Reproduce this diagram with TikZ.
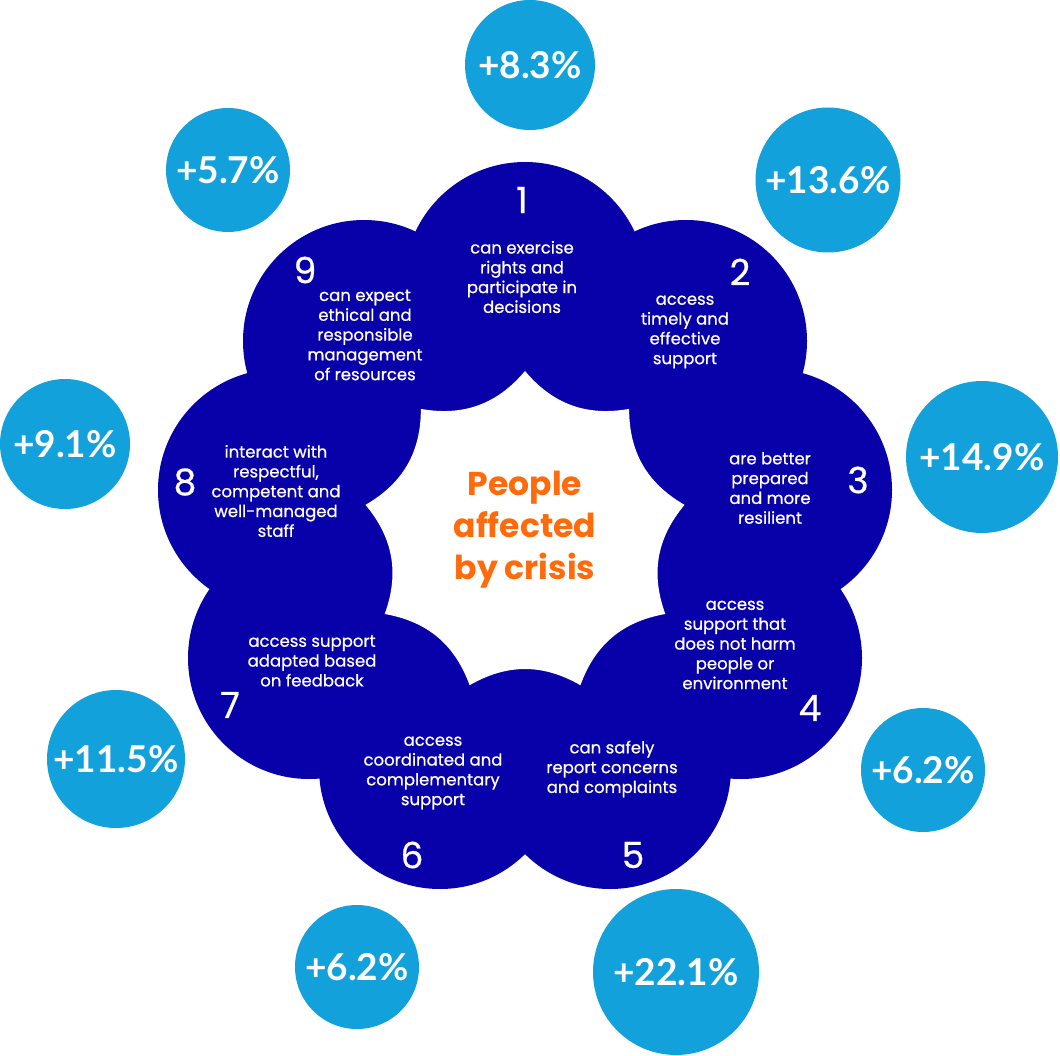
\documentclass[tikz,border=0pt]{standalone}
\usepackage{fontspec}
\setmainfont{Poppins}
\newfontfamily\petalfont[FakeBold=0.7]{Poppins}
\newfontfamily\pctfont{Lato}
\definecolor{crisisblue}{HTML}{0800A8}
\definecolor{gainblue}{HTML}{13A1DB}
\definecolor{crisisorange}{HTML}{FF6A0A}
\tikzstyle{petal}=[circle,fill=crisisblue,minimum size=242pt,inner sep=0pt]
\tikzstyle{petaltext}=[text=white,align=center,inner sep=0pt,font=\petalfont\fontsize{16.5}{19.8}\selectfont]
\tikzstyle{petalnum}=[text=white,inner sep=0pt,font=\petalfont\fontsize{36}{36}\selectfont]
\tikzstyle{gain}=[circle,fill=gainblue,text=white,inner sep=0pt,font=\pctfont\bfseries\fontsize{37}{37}\selectfont]

\begin{document}
\begin{tikzpicture}[x=1pt,y=1pt]
\useasboundingbox (0,0) rectangle (1060,-1056);
\fill[crisisblue] (525,-533) circle (200pt);
\node[petal] at (525,-283) (p1) {};
\node[petal] at (686,-341) (p2) {};
\node[petal] at (771,-490) (p3) {};
\node[petal] at (741,-658) (p4) {};
\node[petal] at (610,-768) (p5) {};
\node[petal] at (440,-768) (p6) {};
\node[petal] at (309,-658) (p7) {};
\node[petal] at (279,-490) (p8) {};
\node[petal] at (364,-341) (p9) {};
\fill[white, shift={(525,-533)}] (90:162) to[bend right=30] (50:162) to[bend right=30] (10:162)
  to[bend right=30] (-30:162) to[bend right=30] (-70:162) to[bend right=30] (-110:162)
  to[bend right=30] (-150:162) to[bend right=30] (-190:162) to[bend right=30] (130:162)
  to[bend right=30] cycle;
\node[text=crisisorange, align=center, font=\bfseries\fontsize{33}{42}\selectfont] at (525,-530) (hub) {People\\affected\\by crisis};
\node[petalnum] at (522,-200) (n1) {1};
\node[petalnum] at (740,-272) (n2) {2};
\node[petalnum] at (858,-480) (n3) {3};
\node[petalnum] at (810,-708) (n4) {4};
\node[petalnum] at (633,-855) (n5) {5};
\node[petalnum] at (412,-855) (n6) {6};
\node[petalnum] at (230,-705) (n7) {7};
\node[petalnum] at (185,-482) (n8) {8};
\node[petalnum] at (305,-270) (n9) {9};
\node[petaltext] at (522,-277) (t1) {can exercise\\rights and\\participate in\\decisions};
\node[petaltext] at (685,-332) (t2) {access\\timely and\\effective\\support};
\node[petaltext] at (770,-488) (t3) {are better\\prepared\\and more\\resilient};
\node[petaltext] at (735,-645) (t4) {access\\support that\\does not harm\\people or\\environment};
\node[petaltext] at (612,-769) (t5) {can safely\\report concerns\\and complaints};
\node[petaltext] at (433,-773) (t6) {access\\coordinated and\\complementary\\support};
\node[petaltext] at (312,-661) (t7) {access support\\adapted based\\on feedback};
\node[petaltext] at (276,-491) (t8) {interact with\\respectful,\\competent and\\well-managed\\staff};
\node[petaltext] at (365,-335) (t9) {can expect\\ethical and\\responsible\\management\\of resources};
\node[gain, minimum size=130pt] at (530,-65) (g1) {+8.3\%};
\node[gain, minimum size=145pt] at (828,-180) (g2) {+13.6\%};
\node[gain, minimum size=152pt] at (982,-457) (g3) {+14.9\%};
\node[gain, minimum size=124pt] at (923,-770) (g4) {+6.2\%};
\node[gain, minimum size=166pt] at (676,-972) (g5) {+22.1\%};
\node[gain, minimum size=124pt] at (357,-967) (g6) {+6.2\%};
\node[gain, minimum size=138pt] at (116,-759) (g7) {+11.5\%};
\node[gain, minimum size=130pt] at (65,-444) (g8) {+9.1\%};
\node[gain, minimum size=124pt] at (228,-170) (g9) {+5.7\%};
\end{tikzpicture}
\end{document}
